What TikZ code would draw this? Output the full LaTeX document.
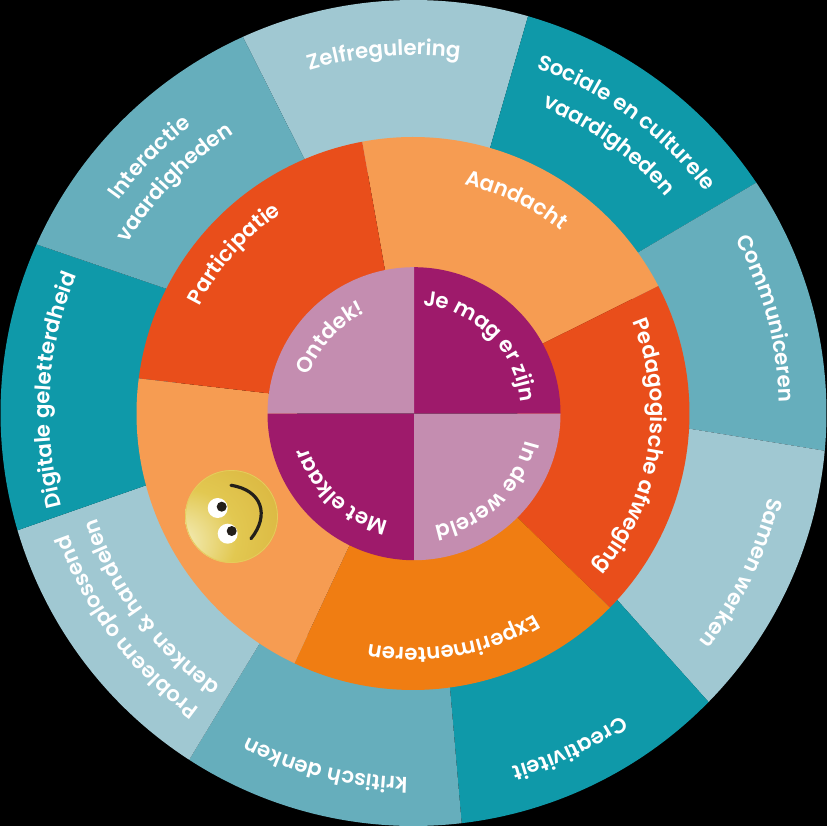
\documentclass[tikz,border=0pt]{standalone}
\usepackage{fontspec}
\setmainfont{Poppins}
\newfontfamily\lblfont{Poppins SemiBold}
\usetikzlibrary{decorations.text,calc}
\definecolor{tLight}{HTML}{A0C8D2}
\definecolor{tDark}{HTML}{0F99A9}
\definecolor{tMid}{HTML}{66AEBC}
\definecolor{oLight}{HTML}{F69C52}
\definecolor{oRed}{HTML}{E94E1B}
\definecolor{oDeep}{HTML}{F07D12}
\definecolor{pLight}{HTML}{C48DB0}
\definecolor{pDark}{HTML}{9E1A6B}
\definecolor{inkDark}{HTML}{231F1A}
\definecolor{ballA}{HTML}{F8F4D4}
\definecolor{ballB}{HTML}{EEE29A}
\definecolor{ballC}{HTML}{E2C851}
\definecolor{ballD}{HTML}{DAB53F}
\definecolor{ballE}{HTML}{C9A030}
\definecolor{ballRim}{HTML}{E6CB5C}
\pgfdeclareradialshading{smileyball}{\pgfpoint{-1.1cm}{-0.55cm}}{
  color(0bp)=(ballA);
  color(10bp)=(ballB);
  color(26bp)=(ballC);
  color(50bp)=(ballD);
  color(100bp)=(ballE)}
% boundary point: name, outer angle, radius, inner point
\newcommand\bound[5]{\coordinate (o#1) at (#2:#3); \coordinate (i#1) at ($(o#1)!1.15!(#4,#5)$);}
% ring sector between two boundaries: from, to, their angles, radius, colour
\newcommand\sect[6]{\fill[#6] (i#1) -- (#3:#5) arc[start angle=#3,end angle=#4,radius=#5] -- (i#2) -- cycle;}
\newcommand\arclabel[4]{\path[decorate,decoration={text along path,text align=center,
   text={|\fontsize{#4}{#4}\lblfont\color{white}|#3}}]
   ({#2+62}:#1) arc[start angle={#2+62},end angle={#2-62},radius=#1];}
\begin{document}
\begin{tikzpicture}[x=0.75pt,y=0.75pt]
\useasboundingbox (0,0) rectangle (827,826);
\fill[black] (0,0) rectangle (827,826);
\begin{scope}[shift={(413.5,413)}]
\bound{a}{73.9}{413}{77.2}{267.3}
\bound{b}{33.9}{413}{225.8}{161.3}
\bound{c}{-5.25}{413}{275.8}{-15.7}
\bound{d}{-44.4}{413}{203.8}{-187}
\bound{e}{-83.3}{413}{36.5}{-274.7}
\bound{f}{-122.9}{413}{-154.2}{-231}
\bound{g}{-163.5}{413}{-266.5}{-72}
\bound{h}{-204.1}{413}{-248.5}{124.7}
\bound{j}{-245.6}{413}{-109.5}{255}
\sect{a}{j}{73.9}{114.4}{413}{tLight}
\sect{b}{a}{33.9}{73.9}{413}{tDark}
\sect{c}{b}{-5.25}{33.9}{413}{tMid}
\sect{d}{c}{-44.4}{-5.25}{413}{tLight}
\sect{e}{d}{-83.3}{-44.4}{413}{tDark}
\sect{f}{e}{-122.9}{-83.3}{413}{tMid}
\sect{g}{f}{-163.5}{-122.9}{413}{tLight}
\sect{h}{g}{-204.1}{-163.5}{413}{tDark}
\sect{j}{h}{-245.6}{-204.1}{413}{tMid}
\end{scope}
\begin{scope}[shift={(413,412.5)}]
\bound{p}{27.46}{276.5}{130.3}{70.2}
\bound{q}{-44.6}{276.5}{105.3}{-104.8}
\bound{r}{-115.4}{276.5}{-64.7}{-134.2}
\bound{s}{-187.3}{276.5}{-144.7}{20.2}
\bound{t}{-259.4}{276.5}{-28}{143.5}
\sect{p}{t}{27.46}{100.6}{276.5}{oLight}
\sect{q}{p}{-44.6}{27.46}{276.5}{oRed}
\sect{r}{q}{-115.4}{-44.6}{276.5}{oDeep}
\sect{s}{r}{-187.3}{-115.4}{276.5}{oLight}
\sect{t}{s}{-259.4}{-187.3}{276.5}{oRed}
\end{scope}
\begin{scope}[shift={(414,412.3)}]
\fill[pDark] (0,0) -- (146.5,0) arc[start angle=0,end angle=90,radius=146.5] -- cycle;
\fill[pLight] (0,0) -- (0,146.5) arc[start angle=90,end angle=180,radius=146.5] -- cycle;
\fill[pDark] (0,0) -- (-146.5,0) arc[start angle=180,end angle=270,radius=146.5] -- cycle;
\fill[pLight] (0,0) -- (0,-146.5) arc[start angle=270,end angle=360,radius=146.5] -- cycle;
\end{scope}
\begin{scope}[shift={(413.5,413)}]
% outer labels
\arclabel{358}{94.7}{Zelfregulering}{16}
\arclabel{366}{53.8}{Sociale en culturele}{16}
\arclabel{332}{53.9}{vaardigheden}{16}
\arclabel{366}{15}{Communiceren}{16}
\arclabel{365}{-26}{Samen werken}{16}
\arclabel{367}{-65}{Creativiteit}{16}
\arclabel{364}{-104}{kritisch denken}{16}
\arclabel{365}{216.7}{Probleem oplossend}{16}
\arclabel{334}{216.5}{denken {\&} handelen}{16}
\arclabel{364}{176.3}{Digitale geletterdheid}{16}
\arclabel{363}{136}{Interactie}{16}
\arclabel{332}{136}{vaardigheden}{16}
% middle labels
\arclabel{234}{64.3}{Aandacht}{16}
\arclabel{237}{-9}{Pedagogische afweging}{16}
\arclabel{235}{-80}{Experimenteren}{16}
\arclabel{239}{138.5}{Participatie}{16}
% inner labels
\arclabel{108}{45.3}{Je mag er zijn}{16}
\arclabel{115}{-46.7}{In de wereld}{16}
\arclabel{111}{227.6}{Met elkaar}{16}
\arclabel{111}{138}{Ontdek!}{16}
\end{scope}
% smiley
\shade[shading=smileyball] (231.5,309.5) circle[radius=46.5];
\draw[ballRim,line width=0.6pt] (231.5,309.5) circle[radius=46];
\fill[white] (217.7,318) circle[radius=10];
\fill[white] (227.7,292.3) circle[radius=10];
\fill[inkDark] (221.7,319.3) circle[radius=5];
\fill[inkDark] (231.7,295) circle[radius=5];
\draw[inkDark,line width=2.4pt,line cap=round] (231,340.7) .. controls (262,336) and (270,311) .. (251,287.3);
\end{tikzpicture}
\end{document}
